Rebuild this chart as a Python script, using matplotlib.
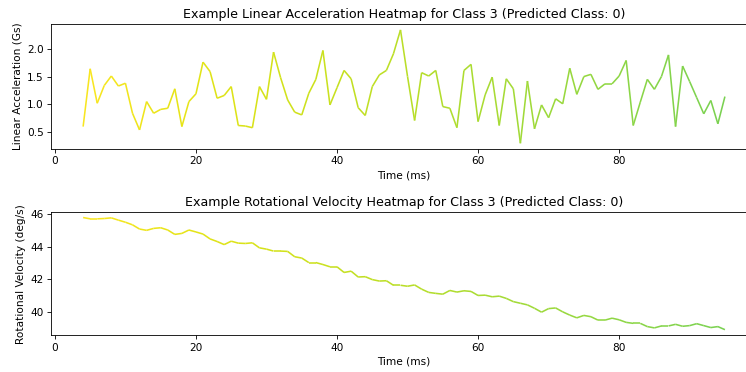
import numpy as np
import matplotlib
matplotlib.use('Agg')
import matplotlib.pyplot as plt
from matplotlib.collections import LineCollection
from matplotlib.colors import ListedColormap

time_ms = np.arange(4, 96)

lin_acc = [0.6, 1.64, 1.02, 1.34, 1.51, 1.33, 1.38, 0.84, 0.54, 1.05,
           0.84, 0.91, 0.93, 1.28, 0.6, 1.05, 1.19, 1.76, 1.59, 1.11,
           1.16, 1.32, 0.62, 0.61, 0.58, 1.32, 1.09, 1.94, 1.48, 1.08,
           0.86, 0.81, 1.2, 1.45, 1.97, 0.99, 1.3, 1.61, 1.46, 0.94,
           0.8, 1.32, 1.53, 1.61, 1.91, 2.34, 1.5, 0.71, 1.57, 1.51,
           1.61, 0.96, 0.93, 0.58, 1.61, 1.72, 0.69, 1.17, 1.49, 0.62,
           1.46, 1.28, 0.3, 1.42, 0.56, 0.99, 0.76, 1.1, 1.01, 1.65,
           1.18, 1.5, 1.54, 1.27, 1.37, 1.37, 1.51, 1.79, 0.62, 1.04,
           1.45, 1.27, 1.5, 1.89, 0.6, 1.69, 1.41, 1.12, 0.83, 1.07,
           0.65, 1.14]

rot_vel = [45.8, 45.72, 45.72, 45.74, 45.78, 45.64, 45.51, 45.35, 45.09, 45.01,
           45.13, 45.17, 45.03, 44.76, 44.82, 45.03, 44.91, 44.78, 44.48, 44.32,
           44.13, 44.34, 44.22, 44.2, 44.24, 43.93, 43.85, 43.73, 43.73, 43.71,
           43.38, 43.3, 43.02, 43.02, 42.9, 42.76, 42.76, 42.41, 42.49, 42.13,
           42.15, 41.97, 41.88, 41.9, 41.62, 41.62, 41.56, 41.64, 41.38, 41.18,
           41.12, 41.07, 41.3, 41.2, 41.28, 41.24, 40.99, 41.01, 40.91, 40.95,
           40.81, 40.61, 40.51, 40.41, 40.2, 39.96, 40.18, 40.22, 39.98, 39.78,
           39.61, 39.76, 39.68, 39.47, 39.47, 39.59, 39.49, 39.33, 39.27, 39.27,
           39.07, 38.99, 39.11, 39.11, 39.21, 39.09, 39.13, 39.25, 39.13, 39.01,
           39.07, 38.88]

# upper part of viridis, yellow -> green
heat_cmap = ListedColormap(plt.cm.viridis(np.linspace(0.99, 0.8, 256)))

s = 1.22
plt.rcParams.update({
    'font.size': 10 * s,
    'axes.titlesize': 12 * s,
    'axes.labelsize': 10 * s,
    'xtick.labelsize': 10 * s,
    'ytick.labelsize': 10 * s,
    'xtick.major.size': 3.5 * s,
    'ytick.major.size': 3.5 * s,
    'xtick.major.width': 0.8 * s,
    'ytick.major.width': 0.8 * s,
    'axes.linewidth': 0.8 * s,
    'xtick.major.pad': 3.5 * s,
    'ytick.major.pad': 3.5 * s,
    'axes.titlepad': 6 * s,
    'axes.labelpad': 4 * s,
})


def heat_line(ax, x, y):
    pts = np.column_stack([x, y]).reshape(-1, 1, 2)
    segs = np.concatenate([pts[:-1], pts[1:]], axis=1)
    lc = LineCollection(segs, cmap=heat_cmap, linewidth=1.5 * s)
    lc.set_array(np.asarray(x[:-1], dtype=float))
    ax.add_collection(lc)
    ax.autoscale_view()


fig = plt.figure(figsize=(12, 5.985), dpi=62.17)

ax1 = fig.add_axes([0.0684, 0.5995, 0.9463, 0.3352])
heat_line(ax1, time_ms, lin_acc)
ax1.set_title('Example Linear Acceleration Heatmap for Class 3 (Predicted Class: 0)')
ax1.set_xlabel('Time (ms)')
ax1.set_ylabel('Linear Acceleration (Gs)')
ax1.set_xticks([0, 20, 40, 60, 80])

ax2 = fig.add_axes([0.0684, 0.0987, 0.9463, 0.3315])
heat_line(ax2, time_ms, rot_vel)
ax2.set_title('Example Rotational Velocity Heatmap for Class 3 (Predicted Class: 0)')
ax2.set_xlabel('Time (ms)')
ax2.set_ylabel('Rotational Velocity (deg/s)')
ax2.set_xticks([0, 20, 40, 60, 80])
ax2.set_yticks([40, 42, 44, 46])

fig.savefig('out.png', dpi=62.17)
